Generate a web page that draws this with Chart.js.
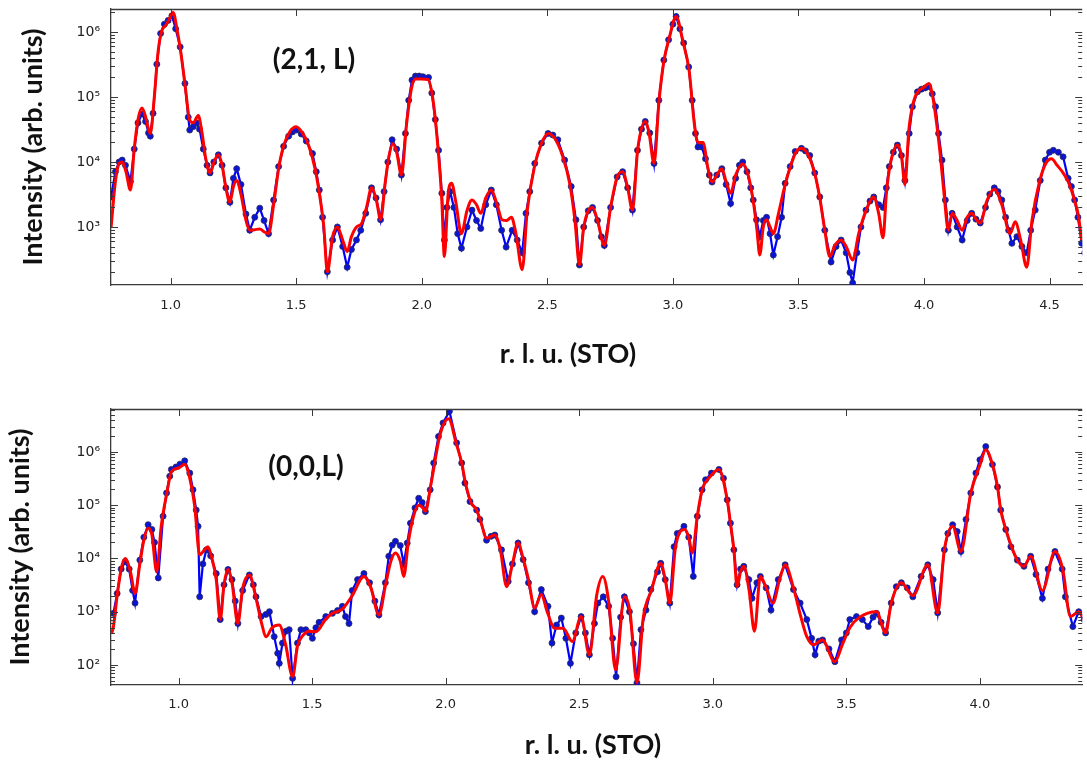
<!DOCTYPE html>
<html>
<head>
<meta charset="utf-8">
<script src="https://cdn.jsdelivr.net/npm/chart.js@4.4.1/dist/chart.umd.min.js"></script>
<style>
  html, body { margin: 0; padding: 0; background: #fff; }
  #wrap { position: relative; width: 1087px; height: 762px; overflow: hidden; }
  canvas { position: absolute; left: 0; }
  #c21 { top: 0; }
  #c00 { top: 390px; }
</style>
</head>
<body>
<div id="wrap">
  <canvas id="c21" width="1087" height="390"></canvas>
  <canvas id="c00" width="1087" height="372"></canvas>
</div>
<script>
// --- (2,1,L) : points mesurés ---
const L21_obs = [
  0.763,0.78,0.795,0.807,0.82,0.84,0.855,0.87,0.886,0.90,
  0.912,0.919,0.93,0.945,0.96,0.975,0.99,1.005,1.02,1.038,
  1.057,1.07,1.076,1.09,1.103,1.115,1.13,1.145,1.157,1.172,
  1.19,1.205,1.22,1.236,1.25,1.263,1.28,1.30,1.315,1.335,
  1.355,1.372,1.39,1.41,1.43,1.45,1.47,1.485,1.50,1.52,
  1.54,1.565,1.58,1.592,1.605,1.624,1.645,1.664,1.685,1.703,
  1.72,1.74,1.757,1.777,1.80,1.818,1.836,1.85,1.865,1.882,
  1.90,1.919,1.935,1.948,1.961,1.975,1.99,2.005,2.027,2.04,
  2.054,2.067,2.08,2.09,2.10,2.113,2.128,2.143,2.158,2.18,
  2.20,2.218,2.235,2.255,2.277,2.297,2.318,2.336,2.36,2.38,
  2.40,2.415,2.43,2.45,2.477,2.503,2.522,2.542,2.569,2.595,
  2.614,2.628,2.645,2.663,2.68,2.70,2.715,2.727,2.752,2.778,
  2.80,2.82,2.839,2.859,2.875,2.89,2.908,2.925,2.944,2.964,
  2.983,3.0,3.013,3.028,3.043,3.063,3.077,3.09,3.10,3.115,
  3.13,3.145,3.156,3.175,3.195,3.212,3.23,3.25,3.265,3.278,
  3.295,3.31,3.32,3.333,3.346,3.36,3.373,3.387,3.40,3.417,
  3.433,3.447,3.467,3.487,3.512,3.528,3.545,3.565,3.585,3.605,
  3.63,3.65,3.67,3.69,3.705,3.716,3.733,3.749,3.769,3.785,
  3.80,3.82,3.837,3.85,3.862,3.878,3.894,3.91,3.924,3.941,
  3.954,3.974,3.99,4.005,4.019,4.033,4.046,4.058,4.072,4.085,
  4.097,4.112,4.132,4.152,4.172,4.19,4.207,4.224,4.245,4.262,
  4.28,4.295,4.31,4.325,4.337,4.35,4.37,4.39,4.409,4.425,
  4.443,4.463,4.483,4.50,4.515,4.535,4.554,4.574,4.587,4.60,
  4.613,4.628,4.64
];
const I21_obs = [
  2.9e3,7.1e3,1.0e4,1.07e4,8.9e3,5.0e3,1.58e4,4.0e4,5.5e4,4.2e4,
  2.8e4,2.5e4,5.6e4,3.2e5,9.5e5,1.32e6,1.51e6,1.78e6,1.12e6,5.9e5,
  1.62e5,4.9e4,3.1e4,3.5e4,4.0e4,3.2e4,1.58e4,8.9e3,6.8e3,1.0e4,
  1.29e4,8.9e3,4.0e3,2.4e3,5.6e3,7.9e3,4.5e3,1.58e3,890,1.41e3,
  1.95e3,1.26e3,790,2.6e3,8.5e3,1.74e4,2.5e4,2.9e4,3.1e4,2.7e4,
  2.1e4,1.35e4,7.1e3,3.7e3,1.41e3,204,630,1.0e3,500,240,
  450,630,890,1.62e3,4.0e3,2.8e3,1.29e3,3.5e3,1.0e4,2.2e4,
  1.58e4,6.3e3,2.75e4,8.9e4,1.82e5,2.1e5,2.1e5,2.05e5,2.0e5,1.15e5,
  4.5e4,1.51e4,3.3e3,630,2.0e3,3.5e3,2.0e3,790,470,1.0e3,
  1.82e3,1.26e3,950,2.2e3,3.7e3,2.2e3,890,490,890,630,
  400,1.62e3,3.5e3,9.5e3,1.95e4,2.75e4,2.6e4,2.2e4,1.07e4,4.2e3,
  1.29e3,260,1.0e3,1.78e3,2.0e3,1.26e3,710,520,2.0e3,5.9e3,
  7.1e3,4.0e3,1.82e3,1.51e4,3.2e4,4.2e4,2.8e4,9.5e3,8.9e4,3.7e5,
  7.6e5,1.32e6,1.74e6,1.12e6,6.8e5,2.9e5,8.9e4,2.75e4,1.7e4,1.7e4,
  1.12e4,6.3e3,4.9e3,6.3e3,7.9e3,4.5e3,2.3e3,5.6e3,8.9e3,1.0e4,
  7.1e3,4.0e3,2.6e3,1.29e3,710,1.26e3,1.41e3,790,370,710,
  1.41e3,4.7e3,8.5e3,1.45e4,1.62e4,1.48e4,1.26e4,6.8e3,2.9e3,890,
  290,500,630,400,200,138,400,1.0e3,1.82e3,2.5e3,
  2.9e3,2.2e3,2.0e3,4.0e3,8.5e3,1.41e4,1.82e4,1.26e4,5.2e3,2.75e4,
  7.1e4,1.2e5,1.32e5,1.38e5,1.45e5,1.12e5,7.1e4,2.75e4,1.07e4,2.6e3,
  890,1.62e3,1.0e3,630,1.26e3,1.62e3,1.32e3,1.15e3,2.0e3,3.2e3,
  4.0e3,3.5e3,2.6e3,1.41e3,890,560,710,500,400,890,
  1.82e3,5.2e3,1.07e4,1.41e4,1.51e4,1.41e4,1.2e4,5.6e3,4.2e3,2.6e3,
  1.41e3,560,400
];

// --- (2,1,L) : ajustement ---
const L21_fit = [
  0.763,0.78,0.795,0.807,0.822,0.84,0.855,0.87,0.886,0.90,
  0.912,0.919,0.935,0.95,0.965,0.98,0.995,1.01,1.025,1.04,
  1.06,1.075,1.09,1.11,1.125,1.14,1.157,1.175,1.19,1.205,
  1.22,1.236,1.25,1.263,1.28,1.30,1.315,1.335,1.355,1.375,
  1.39,1.41,1.43,1.45,1.475,1.50,1.525,1.55,1.575,1.595,
  1.61,1.624,1.645,1.664,1.685,1.703,1.72,1.74,1.76,1.78,
  1.80,1.82,1.836,1.855,1.87,1.885,1.90,1.919,1.94,1.96,
  1.975,2.0,2.025,2.045,2.065,2.08,2.09,2.105,2.119,2.135,
  2.158,2.18,2.20,2.218,2.235,2.255,2.277,2.30,2.32,2.338,
  2.357,2.375,2.40,2.42,2.45,2.477,2.503,2.53,2.56,2.59,
  2.61,2.628,2.645,2.68,2.70,2.727,2.752,2.778,2.80,2.82,
  2.839,2.86,2.89,2.905,2.925,2.945,2.965,2.985,3.013,3.04,
  3.065,3.085,3.10,3.12,3.14,3.156,3.175,3.195,3.212,3.23,
  3.25,3.278,3.30,3.32,3.335,3.346,3.36,3.373,3.387,3.40,
  3.42,3.447,3.47,3.49,3.512,3.54,3.565,3.585,3.605,3.625,
  3.645,3.67,3.69,3.716,3.74,3.77,3.80,3.82,3.837,3.85,
  3.865,3.894,3.91,3.924,3.94,3.96,3.98,4.0,4.019,4.035,
  4.05,4.065,4.08,4.097,4.112,4.132,4.152,4.172,4.19,4.207,
  4.224,4.25,4.28,4.31,4.343,4.363,4.385,4.409,4.43,4.46,
  4.485,4.508,4.53,4.554,4.574,4.587,4.60,4.613,4.628
];
const I21_fit = [
  1.0e3,5.0e3,9.5e3,1.0e4,7.1e3,3.7e3,1.58e4,4.5e4,6.8e4,5.0e4,
  3.2e4,2.75e4,1.0e5,5.0e5,1.05e6,1.26e6,1.58e6,2.0e6,1.12e6,5.0e5,
  1.26e5,4.5e4,4.0e4,5.2e4,2.8e4,1.12e4,6.8e3,1.05e4,1.29e4,8.9e3,
  4.0e3,2.4e3,4.2e3,5.2e3,3.2e3,1.26e3,890,910,930,830,
  790,2.2e3,7.9e3,1.78e4,2.95e4,3.5e4,2.8e4,1.78e4,7.9e3,2.8e3,
  1.0e3,204,710,1.0e3,630,420,710,1.0e3,1.12e3,2.0e3,
  4.0e3,2.5e3,1.29e3,5.0e3,1.26e4,1.9e4,1.41e4,6.3e3,4.0e4,1.41e5,
  1.9e5,1.9e5,1.86e5,8.9e4,1.58e4,2.5e3,350,3.2e3,4.7e3,2.5e3,
  790,1.78e3,2.6e3,2.2e3,1.62e3,2.8e3,3.7e3,2.2e3,1.29e3,1.26e3,
  1.41e3,790,220,1.78e3,8.9e3,1.95e4,2.75e4,2.3e4,1.26e4,4.5e3,
  1.26e3,260,1.0e3,2.0e3,1.26e3,520,2.0e3,5.9e3,7.1e3,4.0e3,
  1.82e3,1.58e4,4.2e4,2.8e4,9.5e3,8.9e4,3.7e5,7.9e5,1.74e6,7.1e5,
  2.5e5,4.0e4,2.0e4,2.0e4,7.9e3,4.9e3,6.3e3,7.9e3,5.0e3,3.3e3,
  6.3e3,9.3e3,6.3e3,2.5e3,890,370,1.0e3,1.29e3,1.0e3,790,
  1.58e3,4.5e3,8.9e3,1.41e4,1.62e4,1.26e4,6.6e3,2.8e3,890,350,
  520,630,500,310,790,1.82e3,2.9e3,1.58e3,680,3.2e3,
  8.9e3,1.82e4,1.26e4,4.5e3,3.2e4,8.9e4,1.26e5,1.41e5,1.62e5,1.0e5,
  4.0e4,1.26e4,3.2e3,890,1.62e3,1.26e3,890,1.41e3,1.62e3,1.32e3,
  1.15e3,2.5e3,3.8e3,2.2e3,790,1.2e3,630,240,1.26e3,5.0e3,
  9.5e3,1.12e4,8.9e3,6.8e3,5.0e3,3.7e3,2.5e3,1.62e3,630
];

// --- (0,0,L) : points mesurés ---
const L00_obs = [
  0.756,0.77,0.785,0.80,0.815,0.828,0.837,0.855,0.87,0.886,
  0.90,0.91,0.924,0.942,0.955,0.967,0.973,0.99,1.005,1.023,
  1.042,1.054,1.066,1.073,1.079,1.091,1.104,1.12,1.141,1.156,
  1.17,1.185,1.20,1.212,1.222,1.24,1.265,1.28,1.29,1.309,
  1.327,1.34,1.358,1.371,1.377,1.389,1.402,1.414,1.427,1.445,
  1.458,1.476,1.489,1.501,1.514,1.526,1.551,1.576,1.595,1.613,
  1.625,1.638,1.65,1.67,1.694,1.715,1.735,1.75,1.774,1.787,
  1.80,1.812,1.83,1.843,1.856,1.868,1.885,1.899,1.912,1.924,
  1.942,1.955,1.973,1.99,2.014,2.041,2.06,2.072,2.091,2.116,
  2.128,2.153,2.17,2.184,2.209,2.234,2.25,2.271,2.29,2.31,
  2.333,2.358,2.383,2.398,2.415,2.433,2.45,2.467,2.487,2.507,
  2.523,2.538,2.557,2.57,2.59,2.61,2.625,2.638,2.655,2.669,
  2.688,2.703,2.716,2.731,2.75,2.768,2.793,2.805,2.822,2.839,
  2.855,2.867,2.892,2.91,2.927,2.942,2.96,2.973,2.995,3.023,
  3.04,3.054,3.066,3.079,3.091,3.104,3.116,3.135,3.147,3.165,
  3.178,3.20,3.218,3.245,3.271,3.302,3.327,3.352,3.37,3.383,
  3.397,3.411,3.435,3.457,3.482,3.50,3.513,3.538,3.56,3.582,
  3.60,3.613,3.63,3.647,3.668,3.687,3.706,3.728,3.749,3.78,
  3.805,3.825,3.842,3.867,3.88,3.898,3.915,3.929,3.948,3.966,
  3.985,4.0,4.022,4.047,4.066,4.078,4.097,4.116,4.14,4.165,
  4.19,4.21,4.234,4.255,4.281,4.308,4.32,4.348,4.37,4.39
];
const I00_obs = [
  930,2.2e3,6.3e3,8.7e3,6.3e3,2.5e3,1.45e3,9.3e3,2.5e4,4.3e4,
  3.5e4,2.0e4,4.3e3,6.2e4,1.7e5,3.5e5,4.7e5,5.2e5,5.9e5,6.8e5,
  4.0e5,1.95e5,8.1e4,4.0e4,1.9e3,7.9e3,1.45e4,1.12e4,5.2e3,710,
  3.2e3,6.2e3,4.0e3,1.58e3,600,2.5e3,4.9e3,3.2e3,1.9e3,810,
  890,1.0e3,340,166,107,257,430,460,56,257,
  460,460,400,316,500,630,810,930,1.05e3,1.26e3,
  810,600,2.5e3,4.0e3,5.2e3,3.5e3,1.58e3,870,3.5e3,1.1e4,
  1.78e4,2.1e4,1.74e4,7.9e3,1.95e4,4.6e4,8.9e4,1.35e5,1.12e5,7.6e4,
  1.95e5,6.2e5,1.95e6,3.5e6,5.8e6,1.48e6,6.2e5,2.6e5,1.17e5,8.1e4,
  5.4e4,2.2e4,2.6e4,2.75e4,1.45e4,3.7e3,7.9e3,1.95e4,9.5e3,3.5e3,
  1.0e3,2.6e3,1.26e3,257,560,760,316,107,400,810,
  400,155,600,1.45e3,1.9e3,1.26e3,316,60,790,1.9e3,
  1.0e3,250,46,460,1.07e3,2.6e3,5.6e3,8.1e3,4.0e3,1.45e3,
  1.66e4,2.95e4,4.0e4,2.5e4,4.6e3,6.2e4,1.95e5,3.0e5,4.0e5,4.7e5,
  3.2e5,1.26e5,4.6e4,1.45e4,3.2e3,6.3e3,7.1e3,4.0e3,1.78e3,3.5e3,
  4.6e3,2.8e3,1.07e3,4.0e3,7.6e3,2.6e3,1.45e3,710,316,155,
  280,295,200,115,295,400,710,810,710,525,
  790,930,630,400,1.45e3,2.95e3,3.5e3,2.8e3,1.9e3,4.6e3,
  7.6e3,4.0e3,950,1.45e4,2.95e4,4.3e4,3.2e4,1.35e4,5.4e4,1.7e5,
  4.0e5,7.1e5,1.26e6,5.8e5,2.2e5,8.1e4,3.5e4,1.66e4,9.3e3,7.1e3,
  1.1e4,5.0e3,1.78e3,6.3e3,1.35e4,6.3e3,1.9e3,525,1.0e3,710
];

// --- (0,0,L) : ajustement ---
const L00_fit = [
  0.75,0.756,0.77,0.785,0.80,0.82,0.837,0.855,0.87,0.886,
  0.90,0.918,0.935,0.955,0.973,1.0,1.023,1.042,1.06,1.079,
  1.095,1.11,1.125,1.141,1.156,1.17,1.185,1.20,1.222,1.24,
  1.265,1.29,1.31,1.328,1.35,1.377,1.40,1.427,1.445,1.465,
  1.489,1.514,1.55,1.576,1.613,1.65,1.694,1.72,1.75,1.775,
  1.795,1.812,1.83,1.843,1.86,1.88,1.899,1.915,1.924,1.945,
  1.98,2.011,2.04,2.06,2.075,2.095,2.116,2.13,2.153,2.184,
  2.205,2.228,2.25,2.271,2.29,2.31,2.333,2.358,2.38,2.408,
  2.44,2.474,2.507,2.538,2.565,2.588,2.61,2.636,2.669,2.69,
  2.716,2.74,2.77,2.805,2.822,2.839,2.86,2.895,2.91,2.923,
  2.942,2.96,2.985,3.023,3.054,3.066,3.079,3.091,3.104,3.116,
  3.136,3.156,3.178,3.20,3.225,3.25,3.271,3.302,3.33,3.352,
  3.377,3.41,3.457,3.485,3.513,3.55,3.613,3.647,3.668,3.706,
  3.749,3.805,3.842,3.867,3.898,3.929,3.966,4.0,4.022,4.047,
  4.066,4.078,4.097,4.14,4.165,4.19,4.234,4.281,4.31,4.339,
  4.37,4.39
];
const I00_fit = [
  400,520,2.0e3,6.3e3,1.0e4,5.6e3,2.2e3,7.9e3,2.2e4,3.7e4,
  2.8e4,5.6e3,4.0e4,1.58e5,4.2e5,5.0e5,5.8e5,3.2e5,1.0e5,1.17e4,
  1.41e4,1.66e4,1.0e4,4.0e3,710,3.2e3,6.2e3,3.5e3,600,2.8e3,
  4.9e3,1.78e3,630,340,500,560,250,60,224,355,
  430,420,710,930,1.12e3,2.0e3,4.6e3,2.8e3,870,3.2e3,
  8.9e3,1.26e4,8.9e3,4.6e3,2.0e4,6.3e4,1.0e5,8.9e4,7.6e4,2.5e5,
  2.2e6,4.2e6,1.41e6,6.2e5,2.5e5,1.12e5,8.1e4,5.2e4,2.4e4,2.75e4,
  1.41e4,2.95e3,7.9e3,1.95e4,1.0e4,4.0e3,1.17e3,2.1e3,1.0e3,490,
  490,275,810,155,2.0e3,4.6e3,1.58e3,80,1.9e3,1.0e3,
  46,790,2.5e3,8.1e3,4.0e3,1.45e3,1.58e4,3.5e4,2.5e4,1.26e4,
  6.2e4,1.95e5,3.2e5,4.7e5,1.26e5,4.6e4,1.45e4,2.95e3,5.6e3,7.1e3,
  2.5e3,430,4.6e3,2.8e3,1.45e3,4.0e3,7.6e3,2.8e3,790,340,
  240,295,115,240,500,790,1.0e3,400,1.45e3,3.5e3,
  2.0e3,7.6e3,950,1.45e4,4.0e4,1.35e4,1.7e5,5.6e5,1.1e6,5.8e5,
  2.2e5,8.1e4,3.5e4,9.3e3,7.1e3,1.1e4,2.5e3,1.35e4,6.3e3,810,
  1.0e3,710
];

// --- ticks ---
const xTicks21 = [1.0, 1.5, 2.0, 2.5, 3.0, 3.5, 4.0, 4.5];
const xTicks00 = [1.0, 1.5, 2.0, 2.5, 3.0, 3.5, 4.0];
const yDecades21 = [100, 1e3, 1e4, 1e5, 1e6];
const yDecades00 = [10, 100, 1e3, 1e4, 1e5, 1e6];

const SUP = { '0': '⁰', '1': '¹', '2': '²', '3': '³', '4': '⁴', '5': '⁵', '6': '⁶', '7': '⁷', '8': '⁸', '9': '⁹' };

function isDecade(v) {
    const e = Math.log10(v);
    return Math.abs(e - Math.round(e)) < 1e-6;
}

// majeurs + mineurs (2..9 x 10^n) dans les bornes
function logTicks(decades, min, max) {
    const out = [];
    decades.forEach(d => {
        for (let k = 1; k <= 9; k++) {
            const v = d * k;
            if (v >= min && v <= max) out.push({ value: v, major: k === 1 });
        }
    });
    return out;
}

function toPoints(xs, ys) {
    return xs.map((x, i) => ({ x: x, y: ys[i] }));
}

// cadre du haut, ticks vers l'intérieur et textes du panneau
const panelDecor = {
    id: 'panelDecor',
    afterDraw(chart, args, o) {
        const { ctx, chartArea: a, scales: { x, y } } = chart;
        ctx.save();
        ctx.strokeStyle = '#3a3a3a';
        ctx.lineWidth = 1.3;
        ctx.beginPath();
        ctx.moveTo(a.left, a.top + 0.5);
        ctx.lineTo(a.right, a.top + 0.5);
        ctx.stroke();

        ctx.lineWidth = 1;
        ctx.beginPath();
        x.ticks.forEach(t => {
            const px = Math.round(x.getPixelForValue(t.value)) + 0.5;
            ctx.moveTo(px, a.bottom); ctx.lineTo(px, a.bottom - 7);
            ctx.moveTo(px, a.top); ctx.lineTo(px, a.top + 7);
        });
        y.ticks.forEach(t => {
            const py = Math.round(y.getPixelForValue(t.value)) + 0.5;
            const len = t.major ? 7 : 4;
            ctx.moveTo(a.left, py); ctx.lineTo(a.left + len, py);
            ctx.moveTo(a.right, py); ctx.lineTo(a.right - len, py);
        });
        ctx.stroke();

        ctx.fillStyle = '#111';
        ctx.textAlign = 'center';
        ctx.textBaseline = 'middle';
        ctx.font = 'bold 27px Lato';
        ctx.fillText(o.xTitle, o.xTitleX, o.xTitleY);
        ctx.font = 'bold 28px Lato';
        ctx.fillText(o.label, o.labelX, o.labelY);
        ctx.restore();
    }
};

function makePanel(canvasId, cfg) {
    const ctx = document.getElementById(canvasId);
    return new Chart(ctx, {
        type: 'line',
        data: {
            datasets: [
                {
                    label: 'fit',
                    data: toPoints(cfg.fitX, cfg.fitY),
                    borderColor: '#ff0000',
                    borderWidth: 3,
                    pointRadius: 0,
                    cubicInterpolationMode: 'monotone',
                    order: 0
                },
                {
                    label: 'data',
                    data: toPoints(cfg.obsX, cfg.obsY),
                    borderColor: '#0000ff',
                    borderWidth: 2.2,
                    pointRadius: 3,
                    pointBackgroundColor: '#0a14d8',
                    pointBorderColor: '#2b2b55',
                    pointBorderWidth: 0.8,
                    tension: 0,
                    order: 1
                }
            ]
        },
        options: {
            responsive: false,
            animation: false,
            layout: { padding: { top: cfg.padTop, left: 0, right: 0, bottom: 0 } },
            plugins: {
                legend: { display: false },
                tooltip: { enabled: false },
                panelDecor: cfg.decor
            },
            scales: {
                x: {
                    type: 'linear',
                    min: cfg.xMin,
                    max: cfg.xMax,
                    afterFit: s => { s.height = cfg.xAxisH; s.paddingLeft = 0; s.paddingRight = 0; },
                    afterBuildTicks: s => { s.ticks = cfg.xTicks.map(v => ({ value: v })); },
                    grid: { display: false, drawTicks: false },
                    border: { display: true, color: '#3a3a3a', width: 1.3 },
                    ticks: {
                        padding: cfg.xTickPad,
                        color: '#222',
                        font: { family: 'DejaVu Sans', size: 13 },
                        callback: v => v.toFixed(1)
                    }
                },
                y: {
                    type: 'logarithmic',
                    min: cfg.yMin,
                    max: cfg.yMax,
                    afterFit: s => { s.width = 111; s.paddingTop = 0; s.paddingBottom = 0; },
                    afterBuildTicks: s => { s.ticks = logTicks(cfg.yDecades, cfg.yMin, cfg.yMax); },
                    grid: { display: false, drawTicks: false },
                    border: { display: true, color: '#3a3a3a', width: 1.3 },
                    ticks: {
                        padding: 11,
                        color: '#222',
                        autoSkip: false,
                        font: { family: 'DejaVu Sans', size: 14 },
                        callback: v => isDecade(v) ? '10' + SUP[String(Math.round(Math.log10(v)))] : ''
                    },
                    title: {
                        display: true,
                        text: 'Intensity (arb. units)',
                        color: '#111',
                        font: { family: 'Lato', size: 27, weight: 'bold' },
                        padding: { top: cfg.yTitlePad, bottom: 0 }
                    }
                }
            }
        },
        plugins: [panelDecor]
    });
}

makePanel('c21', {
    obsX: L21_obs, obsY: I21_obs, fitX: L21_fit, fitY: I21_fit,
    xMin: 0.7625, xMax: 4.63, xTicks: xTicks21,
    yMin: 128, yMax: 2.26e6, yDecades: yDecades21,
    padTop: 9, xAxisH: 105, xTickPad: 13, yTitlePad: 17,
    decor: { xTitle: 'r. l. u. (STO)', xTitleX: 568, xTitleY: 354,
             label: '(2,1, L)', labelX: 314, labelY: 60 }
});

makePanel('c00', {
    obsX: L00_obs, obsY: I00_obs, fitX: L00_fit, fitY: I00_fit,
    xMin: 0.747, xMax: 4.383, xTicks: xTicks00,
    yMin: 42, yMax: 6.4e6, yDecades: yDecades00,
    padTop: 19, xAxisH: 77, xTickPad: 12, yTitlePad: 4,
    decor: { xTitle: 'r. l. u. (STO)', xTitleX: 593, xTitleY: 355,
             label: '(0,0,L)', labelX: 306, labelY: 77 }
});
</script>
</body>
</html>
